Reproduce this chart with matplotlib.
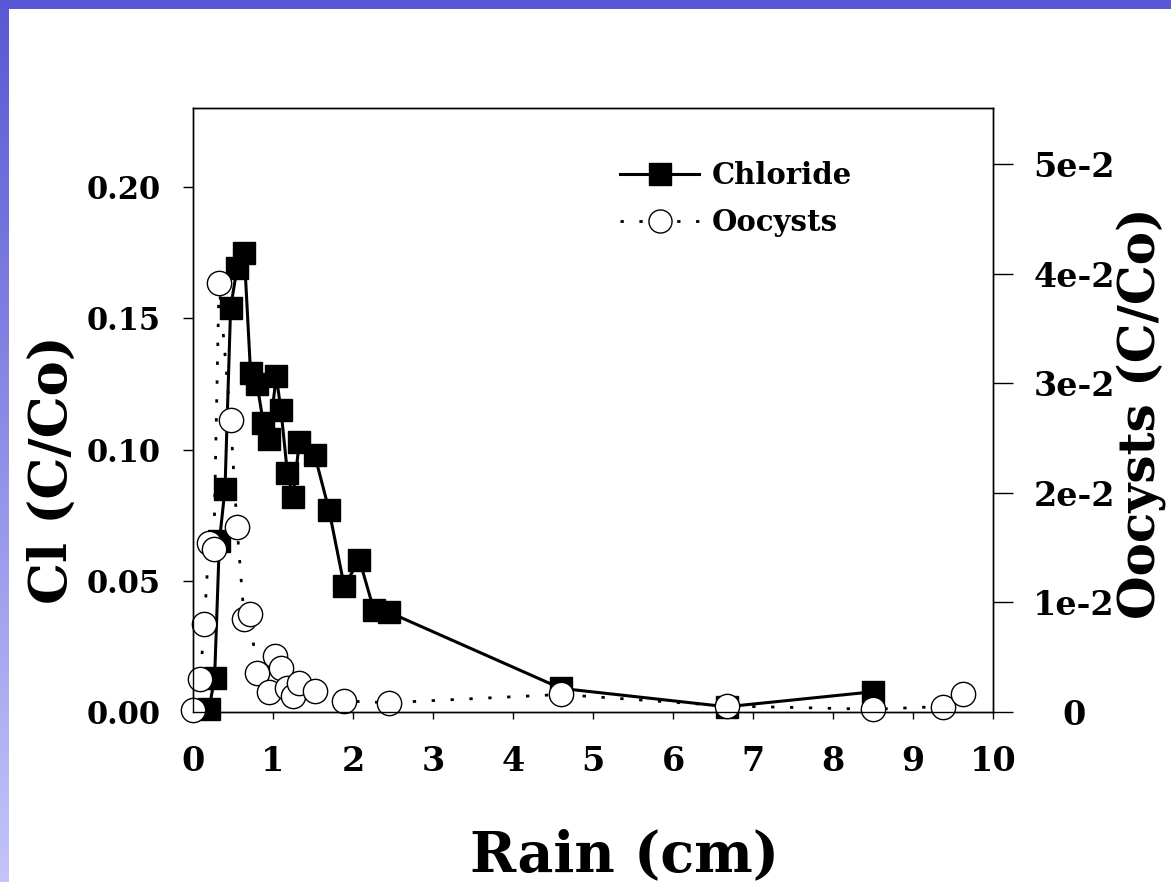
import matplotlib

matplotlib.use("Agg")

import matplotlib.pyplot as plt
import numpy as np
from matplotlib.colors import LinearSegmentedColormap
from matplotlib.patches import Rectangle

W, H = 1171, 882

# chloride breakthrough (left axis)
rain_cl = [0.20, 0.27, 0.33, 0.40, 0.47, 0.55, 0.64, 0.72, 0.80, 0.88, 0.95, 1.04,
           1.10, 1.18, 1.25, 1.33, 1.52, 1.70, 1.89, 2.08, 2.26, 2.45, 4.60, 6.67, 8.50]
chloride = [0.001, 0.013, 0.065, 0.085, 0.154, 0.169, 0.175, 0.129, 0.125, 0.110, 0.104, 0.128,
            0.115, 0.091, 0.082, 0.103, 0.098, 0.077, 0.048, 0.058, 0.039, 0.038, 0.009, 0.002, 0.0077]

# oocyst breakthrough (right axis)
rain_oo = [0.00, 0.09, 0.14, 0.20, 0.26, 0.325, 0.47, 0.55, 0.64, 0.71, 0.80, 0.95, 1.03,
           1.10, 1.18, 1.25, 1.32, 1.52, 1.89, 2.45, 4.60, 6.67, 8.50, 9.37, 9.62]
oocysts = [0.0002, 0.0030, 0.0080, 0.0154, 0.0149, 0.0391, 0.0266, 0.0169, 0.0085, 0.0089,
           0.0036, 0.0018, 0.0051, 0.0040, 0.0022, 0.0015, 0.0026, 0.0019, 0.0010, 0.00085,
           0.0016, 0.00055, 0.00025, 0.0005, 0.0016]

x_ticks = list(range(0, 11))
cl_ticks = [0.00, 0.05, 0.10, 0.15, 0.20]
cl_tick_labels = ["0.00", "0.05", "0.10", "0.15", "0.20"]
oo_ticks = [0.0, 0.01, 0.02, 0.03, 0.04, 0.05]
oo_tick_labels = ["0", "1e-2", "2e-2", "3e-2", "4e-2", "5e-2"]

plt.rcParams["font.family"] = "DejaVu Serif"
plt.rcParams["font.weight"] = "bold"
plt.rcParams["axes.labelweight"] = "bold"

fig = plt.figure(figsize=(W / 100, H / 100), dpi=100, facecolor="white")

# slide frame: fading bar down the left edge, solid bar across the top
band = fig.add_axes([0, 0, 9 / W, 1])
cmap = LinearSegmentedColormap.from_list("band", ["#5858d4", "#c4c4fa"])
band.imshow(np.linspace(0, 1, 256)[:, None], aspect="auto", cmap=cmap)
band.axis("off")
fig.patches.append(Rectangle((0, 1 - 9 / H), 1, 9 / H, transform=fig.transFigure,
                             facecolor="#5858d4", edgecolor="none", zorder=0))

ax = fig.add_axes([193 / W, 1 - 712 / H, 800 / W, 604 / H])
(l_cl,) = ax.plot(rain_cl, chloride, color="black", lw=2.2, marker="s", ms=16.5,
                  mfc="black", mec="black", clip_on=False, label="Chloride")
ax.set_xlim(0, 10)
ax.set_ylim(0, 0.2301)
ax.set_xticks(x_ticks)
ax.set_yticks(cl_ticks, cl_tick_labels)

ax2 = ax.twinx()
(l_oo,) = ax2.plot(rain_oo, oocysts, color="black", lw=2.0, ls=(0, (1.2, 5.6)), marker="o",
                   ms=17.5, mfc="white", mec="black", mew=1.0, clip_on=False, label="Oocysts")
ax2.set_ylim(0, 0.0551)
ax2.set_yticks(oo_ticks, oo_tick_labels)

for a in (ax, ax2):
    for spine in a.spines.values():
        spine.set_linewidth(1.0)

ax.tick_params(axis="x", direction="out", length=5, width=1, labelsize=24, pad=19)
ax.tick_params(axis="y", direction="out", length=7, width=1, labelsize=22, pad=16)
ax2.tick_params(axis="y", direction="out", length=14.4, width=1, labelsize=24, pad=44)
for t in ax2.get_yticklabels():
    t.set_horizontalalignment("center")

ax.set_xlabel("Rain (cm)", fontsize=40, fontweight="bold", va="baseline")
ax.xaxis.set_label_coords(625 / W, 1 - 871 / H, transform=fig.transFigure)
ax.set_ylabel("Cl (C/Co)", fontsize=38, fontweight="bold", va="baseline")
ax.yaxis.set_label_coords(67 / W, 1 - 470 / H, transform=fig.transFigure)
ax2.set_ylabel("Oocysts (C/Co)", fontsize=36, fontweight="bold", va="baseline")
ax2.yaxis.set_label_coords(1155 / W, 1 - 413 / H, transform=fig.transFigure)

ax2.legend(handles=[l_cl, l_oo], loc="upper left", bbox_to_anchor=(0.534, 0.912),
           frameon=False, fontsize=21, handlelength=2.7, handletextpad=0.45,
           labelspacing=0.62, borderaxespad=0, borderpad=0, markerscale=0.95)

fig.savefig("out.png", dpi=100, facecolor="white")
